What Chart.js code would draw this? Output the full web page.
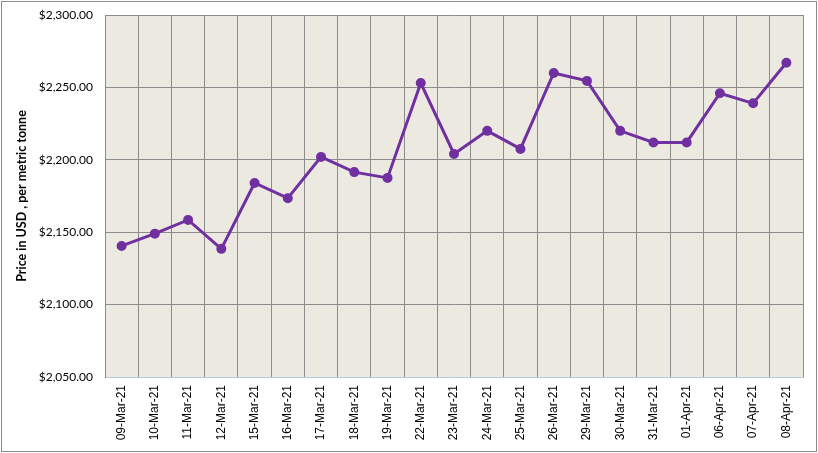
<!DOCTYPE html>
<html>
<head>
<meta charset="utf-8">
<script src="https://cdn.jsdelivr.net/npm/chart.js@4/dist/chart.umd.min.js"></script>
<style>
  html, body { margin: 0; padding: 0; background: #fff; }
  #wrap { width: 818px; height: 453px; position: relative; }
</style>
</head>
<body>
<div id="wrap"><canvas id="priceChart" width="818" height="453"></canvas></div>
<script>
const dates = ["09-Mar-21", "10-Mar-21", "11-Mar-21", "12-Mar-21", "15-Mar-21", "16-Mar-21", "17-Mar-21",
  "18-Mar-21", "19-Mar-21", "22-Mar-21", "23-Mar-21", "24-Mar-21", "25-Mar-21", "26-Mar-21", "29-Mar-21",
  "30-Mar-21", "31-Mar-21", "01-Apr-21", "06-Apr-21", "07-Apr-21", "08-Apr-21"];
const prices = [2140.5, 2149, 2158.5, 2138.5, 2184, 2173.5, 2202, 2191.5, 2187.5, 2253, 2204, 2220,
  2207.5, 2260, 2254.5, 2220, 2212, 2212, 2246, 2239, 2267];
const yMin = 2050;
const yMax = 2300;
const yStep = 50;

function fmtUSD(v) {
  return "$" + Number(v).toLocaleString("en-US", { minimumFractionDigits: 2, maximumFractionDigits: 2 });
}

// plot background + outer frame
const framePlugin = {
  id: "frame",
  beforeDraw(chart) {
    const { ctx, chartArea } = chart;
    ctx.save();
    ctx.fillStyle = "#fff";
    ctx.fillRect(0, 0, chart.width, chart.height);
    ctx.fillStyle = "#ECEAE0";
    ctx.fillRect(chartArea.left, chartArea.top, chartArea.right - chartArea.left, chartArea.bottom - chartArea.top);
    ctx.strokeStyle = "#8c8c8c";
    ctx.lineWidth = 1;
    ctx.strokeRect(1.5, 1.5, chart.width - 3, chart.height - 3);
    ctx.restore();
  }
};

new Chart(document.getElementById("priceChart"), {
  type: "line",
  data: {
    labels: dates,
    datasets: [{
      data: prices,
      borderColor: "#7030A0",
      backgroundColor: "#7030A0",
      borderWidth: 3,
      pointRadius: 3.5,
      pointBackgroundColor: "#7030A0",
      pointBorderColor: "#7030A0",
      tension: 0
    }]
  },
  options: {
    responsive: false,
    animation: false,
    layout: { padding: { left: 0, right: 15, top: 15, bottom: 0 } },
    plugins: { legend: { display: false }, tooltip: { enabled: false } },
    scales: {
      x: {
        offset: true,
        grid: { offset: true, color: "#8c8c8c", lineWidth: 1, drawTicks: false },
        border: { color: "#b9c9de", width: 1 },
        ticks: {
          color: "#000",
          font: { family: "Liberation Sans", size: 12 },
          maxRotation: 90,
          minRotation: 90,
          padding: 8,
          autoSkip: false
        },
        afterFit(scale) { scale.height = 76; }
      },
      y: {
        min: yMin,
        max: yMax,
        grid: {
          color: ctx => (ctx.tick && ctx.tick.value === yMin) ? "rgba(0,0,0,0)" : "#8c8c8c",
          lineWidth: 1,
          drawTicks: false
        },
        border: { color: "#8c8c8c", width: 1 },
        ticks: {
          stepSize: yStep,
          color: "#000",
          font: { family: "Lato", size: 12 },
          padding: 12,
          callback: v => fmtUSD(v)
        },
        title: {
          display: true,
          text: "Price in USD , per metric tonne",
          color: "#000",
          font: { family: "Lato", size: 12.5, weight: "bold" },
          padding: { top: 14, bottom: 0 }
        },
        afterFit(scale) {
          scale.width = 105;
          scale.paddingTop = 0;
          scale.paddingBottom = 0;
        }
      }
    }
  },
  plugins: [framePlugin]
});
</script>
</body>
</html>
